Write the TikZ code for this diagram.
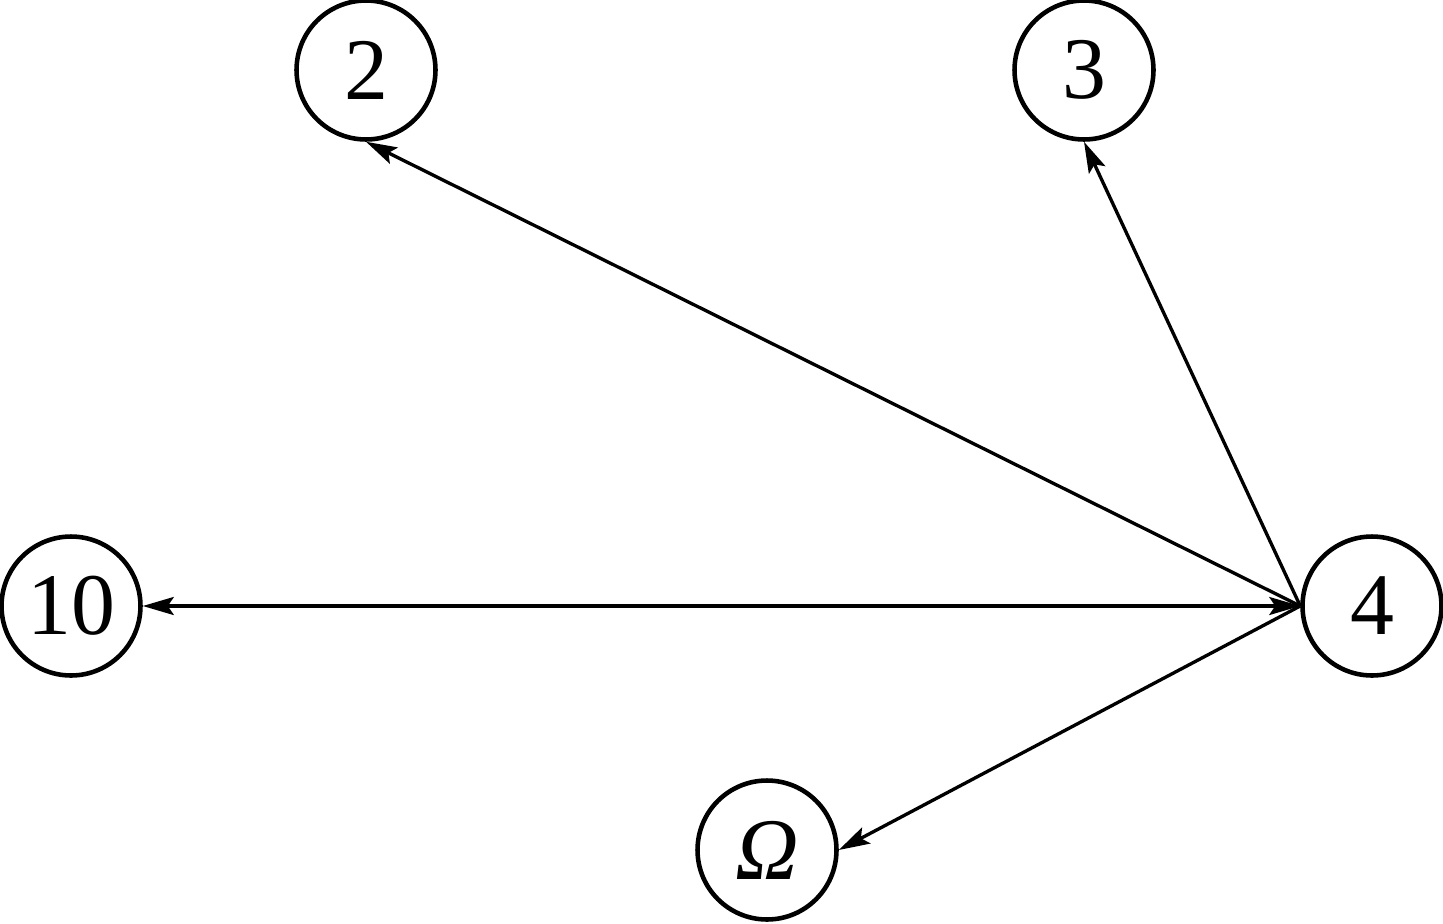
\documentclass[tikz,border=0pt]{standalone}
\usepackage{fontspec}
\setmainfont{Liberation Serif}
\usetikzlibrary{arrows.meta}

\begin{document}
\begin{tikzpicture}[x=0.02cm, y=-0.02cm,
  vertex/.style={circle, draw, line width=2.6pt, minimum size=2.78cm, inner sep=0pt,
    font=\fontsize{50}{52}\selectfont},
  edge/.style={line width=1.9pt, -{Stealth[length=0.62cm, width=0.36cm, inset=0.12cm]}}]
\useasboundingbox (0,0) rectangle (1443,923);

% Nodes
\node[vertex] (n2) at (366,70) {2};
\node[vertex] (n3) at (1084,70) {3};
\node[vertex] (n10) at (71,606) {10};
\node[vertex] (n4) at (1372,606) {4};
\node[vertex] (nO) at (767,850) {\itshape Ω};

% Edges
\draw[edge] (n4.west) -- (n2.south);
\draw[edge] (n4.west) -- (n3.south);
\draw[edge, {Stealth[length=0.62cm, width=0.36cm, inset=0.12cm]}-{Stealth[length=0.62cm, width=0.36cm, inset=0.12cm]}] (n10.east) -- (n4.west);
\draw[edge] (n4.west) -- (nO.east);
\end{tikzpicture}
\end{document}
